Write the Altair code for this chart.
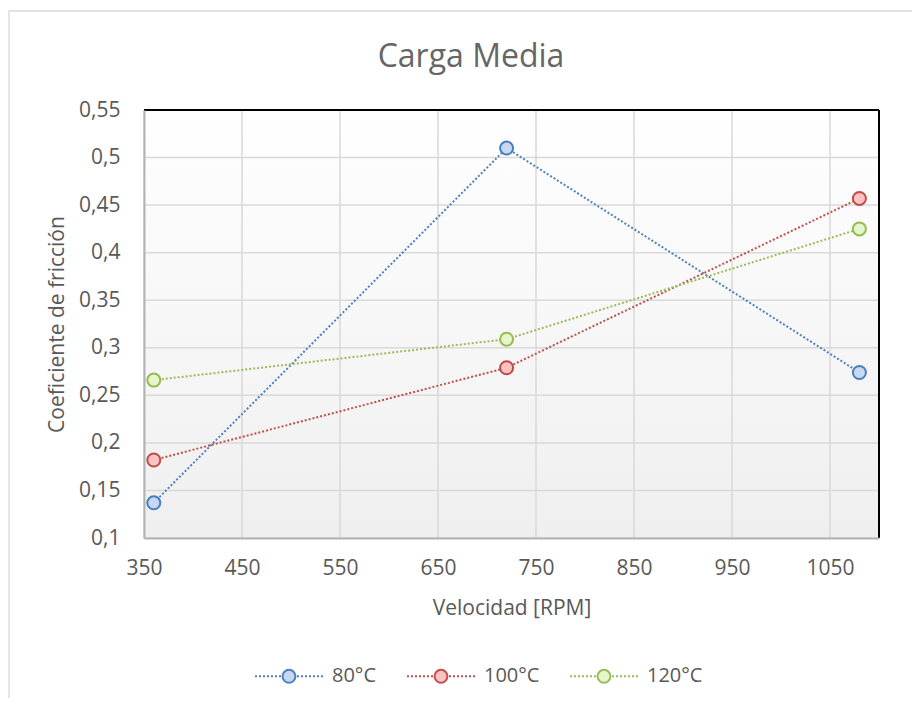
import altair as alt
import pandas as pd

# ---- data ----
series = ["80°C", "100°C", "120°C"]
rpm = [360, 720, 1080]
coef_80 = [0.137, 0.510, 0.274]
coef_100 = [0.182, 0.279, 0.457]
coef_120 = [0.266, 0.309, 0.425]
x_ticks = [350, 450, 550, 650, 750, 850, 950, 1050]
y_ticks = [0.1, 0.15, 0.2, 0.25, 0.3, 0.35, 0.4, 0.45, 0.5, 0.55]
chart_title = ["Carga Media"]
x_title = "Velocidad [RPM]"
y_title = "Coeficiente de fricción"

line_colors = ["#4f81bd", "#c0504d", "#9bbb59"]
marker_fills = ["#c6d8f6", "#ffc2c2", "#e3f7cb"]
marker_strokes = ["#4a7ebb", "#be4b48", "#98b954"]

rows = []
for s, vals in zip(series, [coef_80, coef_100, coef_120]):
    for r, v in zip(rpm, vals):
        rows.append({"Serie": s, "RPM": r, "Coef": v})
df = pd.DataFrame(rows)
xt = pd.DataFrame({"v": x_ticks})
yt = pd.DataFrame({"v": y_ticks})
one = pd.DataFrame({"k": [0]})

W, H = 735, 428
FONT = "Open Sans"
TXT = "#595959"
xscale = alt.Scale(domain=[350, 1100], nice=False, zero=False)
yscale = alt.Scale(domain=[0.1, 0.55], nice=False, zero=False)

x_axis = alt.Axis(
    values=x_ticks, format="d", grid=False, ticks=False, tickSize=0,
    domainColor="#b3b3b3", domainWidth=2,
    labelFont=FONT, labelFontSize=21, labelColor=TXT, labelPadding=30, labelBaseline="middle",
    labelFlush=False, labelOverlap=False,
    title=x_title, titleFont=FONT, titleFontSize=21, titleFontWeight="normal", titleColor=TXT,
    titleY=70, titleBaseline="middle", zindex=1,
)
y_axis = alt.Axis(
    values=y_ticks, grid=False, ticks=False, tickSize=0,
    domainColor="#b3b3b3", domainWidth=2,
    labelFont=FONT, labelFontSize=21, labelColor=TXT, labelPadding=24,
    labelExpr="replace(format(datum.value, '.2~f'), '.', ',')",
    labelFlush=False, labelOverlap=False,
    title=y_title, titleFont=FONT, titleFontSize=21, titleFontWeight="normal", titleColor=TXT,
    titleX=-87, titleY=H / 2, titleAngle=270, titleAlign="center", titleBaseline="middle", zindex=1,
)

# legend symbol: dotted line with a circle in the middle (unit square path)
def _dots(start, stop):
    parts, a = [], start
    while a + 0.0588 <= stop + 1e-9:
        parts.append((a, a + 0.0588))
        a += 0.1176
    return parts

_segs = _dots(-1.0, -0.21)
_path_parts = [f"M{a:.3f},0L{b:.3f},0" for a, b in _segs]
_path_parts += [f"M{-b:.3f},0L{-a:.3f},0" for a, b in _segs]
R = 0.19
symbol_path = "".join(_path_parts) + f"M{R},0A{R},{R},0,1,1,{-R},0A{R},{R},0,1,1,{R},0Z"

legend = alt.Legend(
    title=None, orient="none", legendX=110, legendY=531, direction="horizontal",
    symbolType=symbol_path, symbolSize=4624, symbolStrokeWidth=2, symbolFillColor="#ffffff",
    symbolOpacity=1, labelFont=FONT, labelFontSize=20, labelColor=TXT,
    labelOffset=8, columnPadding=26, padding=0, symbolOffset=0,
)

# outer chart border (decoration)
border = alt.Chart(one).mark_rect(fill="transparent", stroke="#d9d9d9", strokeWidth=1.3).encode(
    x=alt.value(-135), x2=alt.value(W + 80), y=alt.value(-99), y2=alt.value(H + 200)
)

# plot-area gradient background
bg = alt.Chart(one).mark_rect(
    fill=alt.Gradient(
        gradient="linear",
        stops=[alt.GradientStop(color="#ffffff", offset=0), alt.GradientStop(color="#efefef", offset=1)],
        x1=0, x2=0, y1=0, y2=1,
    )
).encode(x=alt.value(0), x2=alt.value(W), y=alt.value(0), y2=alt.value(H))

gridx = alt.Chart(xt).mark_rule(color="#d9d9d9", strokeWidth=1.5).encode(
    x=alt.X("v:Q", scale=xscale, axis=x_axis)
)
gridy = alt.Chart(yt).mark_rule(color="#d9d9d9", strokeWidth=1.5).encode(
    y=alt.Y("v:Q", scale=yscale, axis=y_axis)
)

lines = alt.Chart(df).mark_line(strokeWidth=2, strokeDash=[2, 2]).encode(
    x=alt.X("RPM:Q", scale=xscale, axis=x_axis),
    y=alt.Y("Coef:Q", scale=yscale, axis=y_axis),
    color=alt.Color("Serie:N", scale=alt.Scale(domain=series, range=line_colors), legend=legend),
)

points = alt.Chart(df).mark_point(shape="circle", filled=True, size=169, strokeWidth=2, opacity=1).encode(
    x=alt.X("RPM:Q", scale=xscale, axis=x_axis),
    y=alt.Y("Coef:Q", scale=yscale, axis=y_axis),
    fill=alt.Fill("Serie:N", scale=alt.Scale(domain=series, range=marker_fills), legend=legend),
    stroke=alt.Stroke("Serie:N", scale=alt.Scale(domain=series, range=marker_strokes), legend=legend),
)

top_b = alt.Chart(one).mark_rule(color="#000000", strokeWidth=2).encode(
    x=alt.value(0), x2=alt.value(W), y=alt.value(0)
)
right_b = alt.Chart(one).mark_rule(color="#000000", strokeWidth=2).encode(
    x=alt.value(W), y=alt.value(0), y2=alt.value(H)
)

title = alt.Chart(pd.DataFrame({"t": chart_title})).mark_text(
    font=FONT, fontSize=32, color="#666666", align="center", baseline="middle"
).encode(x=alt.value(327), y=alt.value(-53), text="t:N")

chart = alt.layer(border, bg, gridx, gridy, top_b, right_b, lines, points, title).properties(
    width=W, height=H,
    padding={"left": 136, "top": 102, "right": 33, "bottom": 160},
    autosize=alt.AutoSizeParams(type="none"),
).configure_view(stroke=None)

chart.save("out.html", embed_options={"renderer": "svg", "actions": False})
